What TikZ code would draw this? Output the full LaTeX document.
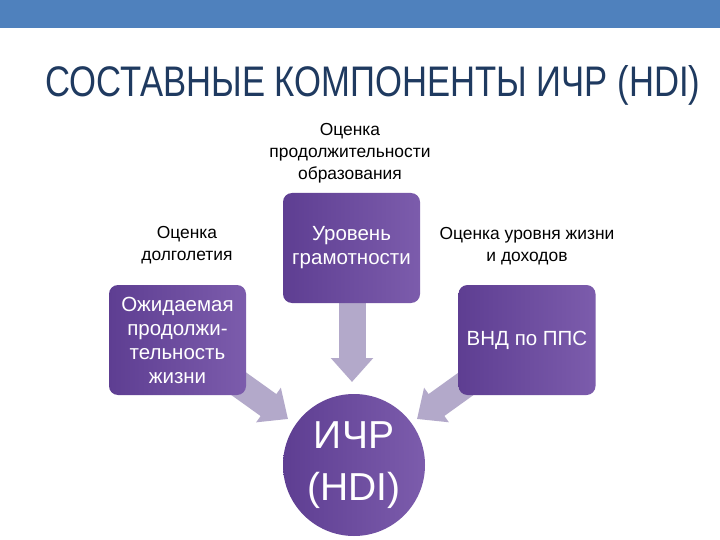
\documentclass[tikz,border=0pt]{standalone}
\usepackage{fontspec}
\usepackage{graphicx}
\setmainfont{Liberation Sans}
\usetikzlibrary{arrows.meta,shapes.geometric}
\definecolor{barblue}{HTML}{4F81BD}
\definecolor{titleblue}{HTML}{1F3A60}
\definecolor{purpA}{HTML}{5E3E92}
\definecolor{purpB}{HTML}{7C5CAC}
\definecolor{arrowc}{HTML}{B3A9CA}
\tikzset{
  pbox/.style={rectangle, rounded corners=9pt, left color=purpA, right color=purpB,
    minimum width=137pt, minimum height=110pt, align=center, text=white,
    font=\fontsize{20.5}{24}\selectfont, inner sep=2pt},
  lbl/.style={align=center, text=black, font=\fontsize{17.4}{22}\selectfont},
  fat/.style={draw=arrowc, line width=27pt, -{Triangle[length=24pt,width=41pt]}},
}
\begin{document}
\begin{tikzpicture}[x=1pt,y=-1pt]
\useasboundingbox (0,0) rectangle (720,540);
\fill[white] (0,0) rectangle (720,540);
\fill[barblue] (0,0) rectangle (720,28);
\node[anchor=base west, inner sep=0pt, text=titleblue] (title) at (45,97)
  {\resizebox{655pt}{31pt}{\fontsize{40}{40}\selectfont СОСТАВНЫЕ КОМПОНЕНТЫ ИЧР (HDI)}};

\node[lbl] (ltop) at (350,153) {Оценка\\продолжительности\\образования};
\node[lbl] (lleft) at (187,245) {Оценка\\долголетия};
\node[lbl] (lright) at (527,246) {Оценка уровня жизни\\и доходов};

\coordinate (tipM) at (352,382);
\coordinate (tipL) at (288,419);
\coordinate (tipR) at (417,419);
\coordinate (lifeC) at (177.5,340);
\coordinate (gndC) at (527,340);
\coordinate (litS) at (352,300);

\draw[fat] (litS) -- (tipM);
\draw[fat] (lifeC) -- (tipL);
\draw[fat] (gndC) -- (tipR);

\node[pbox] (lit) at (351.5,248) {Уровень\\грамотности};
\node[pbox] (life) at (177.5,340) {Ожидаемая\\продолжи-\\тельность\\жизни};
\node[pbox] (gnd) at (527,340) {ВНД по ППС};
\node[circle, minimum size=142pt, left color=purpA, right color=purpB, text=white,
  align=center, font=\fontsize{39}{52}\selectfont, inner sep=0pt] (hdi) at (354,465) {ИЧР\\(HDI)};
\end{tikzpicture}
\end{document}
